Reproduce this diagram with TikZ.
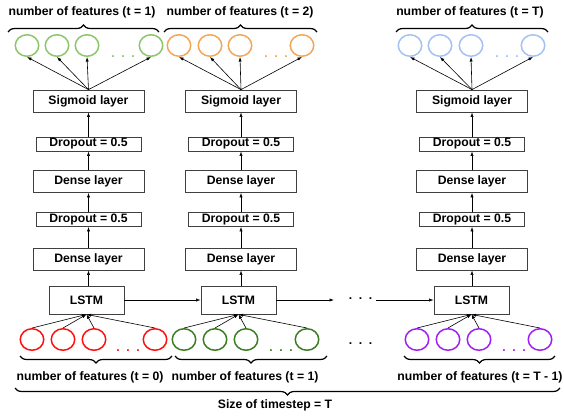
\documentclass[tikz,border=0pt]{standalone}
\usepackage{fontspec}
\setmainfont{Liberation Sans}
\usetikzlibrary{shapes.geometric,arrows.meta,decorations.pathreplacing}
\definecolor{cgreenL}{HTML}{8CC66A}
\definecolor{corange}{HTML}{F2A65A}
\definecolor{cblue}{HTML}{A3C2F2}
\definecolor{cred}{HTML}{FF1010}
\definecolor{cgreenD}{HTML}{3B7D23}
\definecolor{cpurple}{HTML}{A020F0}
\begin{document}
\begin{tikzpicture}[x=1pt,y=-1pt, font=\fontsize{12.2}{14}\selectfont\bfseries,
 box/.style={draw=black!75, line width=0.8pt, rectangle, inner sep=0pt, minimum width=111pt, minimum height=22pt},
 drop/.style={box, minimum width=105pt, minimum height=14pt},
 lstmbox/.style={box, minimum width=75pt, minimum height=28pt},
 feat/.style={ellipse, draw, line width=1.5pt, minimum width=23.5pt, minimum height=21.5pt, inner sep=0pt},
 arr/.style={-{Latex[length=4.5pt,width=3.2pt]}, line width=0.6pt},
 brc/.style={decorate, decoration={brace, amplitude=7pt}, line width=1.2pt},
 dotsn/.style={inner sep=0pt, anchor=base},
 lab/.style={inner sep=0pt}]
\useasboundingbox (0,0) rectangle (564,415);

% columns of layers
\foreach \c/\x/\lx in {1/88.5/86.5, 2/241/238.5, 3/472/471.5}{
  \node[box]     (sig\c)   at (\x,101)   {Sigmoid layer};
  \node[drop]    (dropa\c) at (\x,144)   {Dropout = 0.5};
  \node[box]     (densa\c) at (\x,181.5) {Dense layer};
  \node[drop]    (dropb\c) at (\x,219.5) {Dropout = 0.5};
  \node[box]     (densb\c) at (\x,259)   {Dense layer};
  \node[lstmbox] (lstm\c)  at (\lx,300)  {LSTM};
  \draw[arr] (lstm\c.north -| densb\c.south) -- (densb\c.south);
  \draw[arr] (densb\c) -- (dropb\c);
  \draw[arr] (dropb\c) -- (densa\c);
  \draw[arr] (densa\c) -- (dropa\c);
  \draw[arr] (dropa\c) -- (sig\c);
}

% output circles (top)
\foreach \c/\col/\a/\b/\d/\e/\dx in {1/cgreenL/27/57/87/151/123, 2/corange/179/210/240/302/276, 3/cblue/410/440/471/533/507}{
  \node[feat, draw=\col] (o\c a) at (\a,45.5) {};
  \node[feat, draw=\col] (o\c b) at (\b,45.5) {};
  \node[feat, draw=\col] (o\c c) at (\d,45.5) {};
  \node[feat, draw=\col] (o\c d) at (\e,45.5) {};
  \node[dotsn, text=\col] (od\c) at (\dx,57) {.\hspace{6.6pt}.\hspace{6.6pt}.};
  \foreach \k in {a,b,c,d}{ \draw[arr] (sig\c.north) -- (o\c\k.south); }
}

% input circles (bottom)
\foreach \c/\col/\a/\b/\d/\e/\dx in {1/cred/32/63/94/155/128, 2/cgreenD/184/215/246/307/281, 3/cpurple/417/448/479/540/514}{
  \node[feat, draw=\col] (i\c a) at (\a,339.5) {};
  \node[feat, draw=\col] (i\c b) at (\b,339.5) {};
  \node[feat, draw=\col] (i\c c) at (\d,339.5) {};
  \node[feat, draw=\col] (i\c d) at (\e,339.5) {};
  \node[dotsn, text=\col] (id\c) at (\dx,351.5) {.\hspace{6.6pt}.\hspace{6.6pt}.};
  \foreach \k in {a,b,c,d}{ \draw[arr] (i\c\k.north) -- (lstm\c.south); }
}

% recurrent connections
\draw[arr] (lstm1.east) -- (lstm2.west);
\coordinate (gapa) at (334,300);
\coordinate (gapb) at (376,300);
\node[dotsn] (mdots) at (360.5,299.5) {.\hspace{6.6pt}.\hspace{6.6pt}.};
\node[dotsn] (bdots) at (360.5,344.5) {.\hspace{6.6pt}.\hspace{6.6pt}.};
\draw[arr] (lstm2.east) -- (gapa);
\draw[arr] (gapb) -- (lstm3.west);

% top braces and labels
\draw[brc] (8,32) -- (159,32);
\draw[brc] (164,32) -- (317,32);
\draw[brc] (396,32) -- (548,32);
\node[lab] (tl1) at (82,12) {number of features (t = 1)};
\node[lab] (tl2) at (240,12) {number of features (t = 2)};
\node[lab] (tl3) at (470,12) {number of features (t = T)};

% bottom braces and labels
\draw[brc] (172,356) -- (20,356);
\draw[brc] (327,356) -- (175,356);
\draw[brc] (555,356) -- (404,356);
\node[lab] (bl1) at (90,377) {number of features (t = 0)};
\node[lab] (bl2) at (245,377) {number of features (t = 1)};
\node[lab] (bl3) at (480,377) {number of features (t = T - 1)};

\draw[brc] (560,388) -- (15,388);
\node[lab] (size) at (275,405) {Size of timestep = T};
\end{tikzpicture}
\end{document}
